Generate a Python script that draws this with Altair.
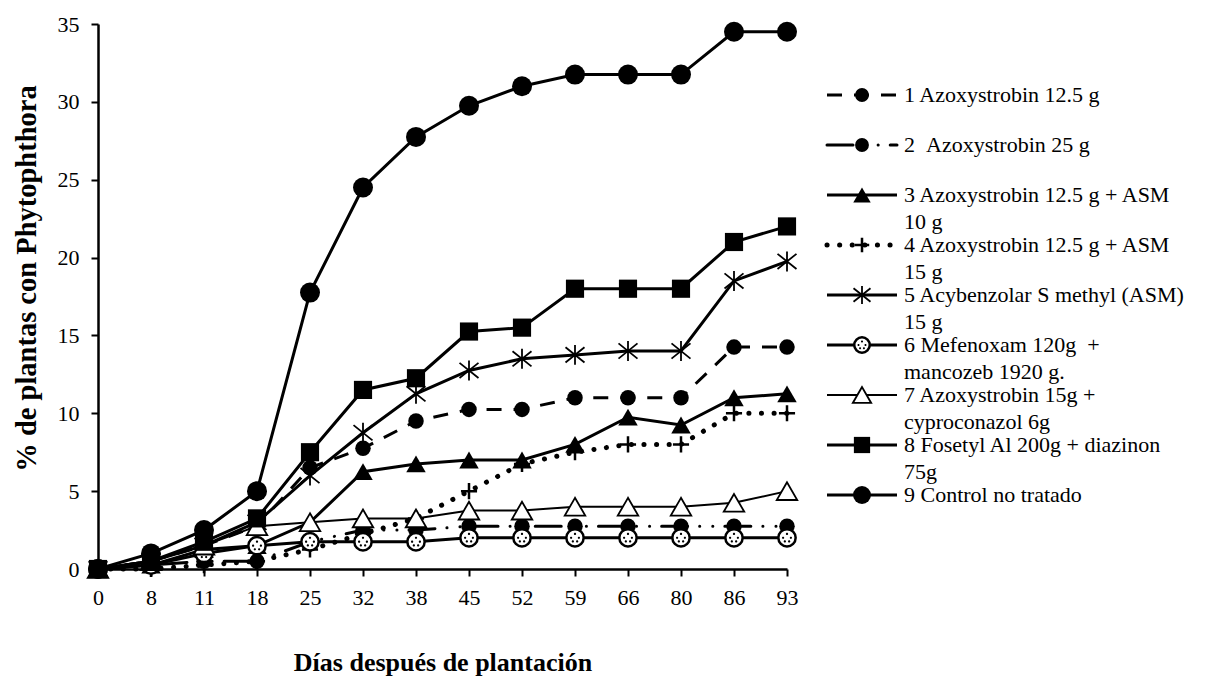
import altair as alt
import pandas as pd

# ---------------- data ----------------
days = ["0", "8", "11", "18", "25", "32", "38", "45", "52", "59", "66", "80", "86", "93"]

s1 = [0, 0.5, 1.5, 2.75, 6.5, 7.75, 9.5, 10.25, 10.25, 11.0, 11.0, 11.0, 14.25, 14.25]
s2 = [0, 0.25, 0.5, 0.5, 1.75, 2.5, 2.5, 2.75, 2.75, 2.75, 2.75, 2.75, 2.75, 2.75]
s3 = [0, 0.25, 1.25, 1.5, 3.0, 6.25, 6.75, 7.0, 7.0, 8.0, 9.75, 9.25, 11.0, 11.25]
s4 = [0, 0, 0.25, 0.5, 1.25, 2.25, 3.25, 5.0, 6.75, 7.5, 8.0, 8.0, 10.0, 10.0]
s5 = [0, 0.5, 1.5, 3.0, 6.0, 8.75, 11.25, 12.75, 13.5, 13.75, 14.0, 14.0, 18.5, 19.75]
s6 = [0, 0.25, 1.0, 1.5, 1.75, 1.75, 1.75, 2.0, 2.0, 2.0, 2.0, 2.0, 2.0, 2.0]
s7 = [0, 0.5, 1.5, 2.75, 3.0, 3.25, 3.25, 3.75, 3.75, 4.0, 4.0, 4.0, 4.25, 5.0]
s8 = [0, 0.5, 1.75, 3.25, 7.5, 11.5, 12.25, 15.25, 15.5, 18.0, 18.0, 18.0, 21.0, 22.0]
s9 = [0, 1.0, 2.5, 5.0, 17.75, 24.5, 27.75, 29.75, 31.0, 31.75, 31.75, 31.75, 34.5, 34.5]

label_line1 = [
    "1 Azoxystrobin 12.5 g",
    "2 \u00a0Azoxystrobin 25 g",
    "3 Azoxystrobin 12.5 g + ASM",
    "4 Azoxystrobin 12.5 g + ASM",
    "5 Acybenzolar S methyl (ASM)",
    "6 Mefenoxam 120g \u00a0+",
    "7 Azoxystrobin 15g +",
    "8 Fosetyl Al 200g + diazinon",
    "9 Control no tratado",
]
label_line2 = ["", "", "10 g", "15 g", "15 g", "mancozeb 1920 g.", "cyproconazol 6g", "75g", ""]

y_ticks = [0, 5, 10, 15, 20, 25, 30, 35]

series_values = [s1, s2, s3, s4, s5, s6, s7, s8, s9]

rows = []
for i, vals in enumerate(series_values):
    for d, v in zip(days, vals):
        rows.append({"serie": i + 1, "dia": d, "pct": v})
df = pd.DataFrame(rows)

# ---------------- styles ----------------
FONT = "Liberation Serif"
PLUS = "M -1 0 L 1 0 M 0 -1 L 0 1"
ASTER = "M -1 -0.8 L 1 0.8 M -1 0.8 L 1 -0.8 M 0 -1.05 L 0 1.05"


def dot(cx, cy, r=0.13):
    return (f"M {cx - r} {cy} A {r} {r} 0 1 0 {cx + r} {cy} "
            f"A {r} {r} 0 1 0 {cx - r} {cy} Z ")


DOTS = dot(0, -0.45) + dot(-0.45, 0.0) + dot(0.45, 0.0) + dot(-0.25, 0.42) + dot(0.25, 0.42)

styles = {
    1: dict(line=dict(strokeDash=[15, 12], strokeWidth=3), marks=[dict(shape="circle", filled=True, size=240)]),
    2: dict(line=dict(strokeDash=[26, 12, 0.1, 13, 0.1, 12], strokeWidth=3, strokeCap="round"),
            marks=[dict(shape="circle", filled=True, size=240)]),
    3: dict(line=dict(strokeWidth=3), marks=[dict(shape="triangle-up", filled=True, size=380)]),
    4: dict(line=dict(strokeDash=[0.1, 12.5], strokeWidth=5, strokeCap="round"),
            marks=[dict(shape=PLUS, filled=False, size=260, strokeWidth=2.5)]),
    5: dict(line=dict(strokeWidth=3), marks=[dict(shape=ASTER, filled=False, size=360, strokeWidth=1.8)]),
    6: dict(line=dict(strokeWidth=3),
            marks=[dict(shape="circle", filled=True, fill="white", stroke="black", strokeWidth=2.5, size=300),
                   dict(shape=DOTS, filled=True, size=300, strokeWidth=0)]),
    7: dict(line=dict(strokeWidth=2),
            marks=[dict(shape="triangle-up", filled=True, fill="white", stroke="black", strokeWidth=1.8, size=420)]),
    8: dict(line=dict(strokeWidth=3), marks=[dict(shape="square", filled=True, size=330)]),
    9: dict(line=dict(strokeWidth=3), marks=[dict(shape="circle", filled=True, size=400)]),
}

# ---------------- main plot ----------------
W, H = 689, 545

x_enc = alt.X(
    "dia:O", sort=days,
    scale=alt.Scale(type="point", padding=0),
    axis=alt.Axis(
        title="Días después de plantación", titleFont=FONT, titleFontSize=26, titleFontWeight="bold",
        titleColor="black", titleY=93, titleBaseline="middle",
        labelFont=FONT, labelFontSize=22, labelColor="black", labelAngle=0, labelPadding=11,
        tickSize=7, tickColor="black", tickWidth=2, domainColor="black", domainWidth=2.5,
        grid=False, labelOverlap=False,
    ),
)
y_enc = alt.Y(
    "pct:Q",
    scale=alt.Scale(domain=[0, 35], nice=False, zero=True),
    axis=alt.Axis(
        title="% de plantas con Phytophthora", titleFont=FONT, titleFontSize=28.5, titleFontWeight="bold",
        titleColor="black", titleX=-72, titleY=254, titleAlign="center", titleBaseline="middle",
        titleAngle=270,
        values=y_ticks, labelFont=FONT, labelFontSize=22, labelColor="black", labelPadding=12,
        tickSize=7, tickColor="black", tickWidth=2, domainColor="black", domainWidth=2.5, grid=False,
    ),
)

base = alt.Chart(df)
main_layers = []
for i in range(1, 10):
    st = styles[i]
    sub = base.transform_filter(alt.datum.serie == i)
    main_layers.append(sub.mark_line(color="black", **st["line"]).encode(x=x_enc, y=y_enc))
    for m in st["marks"]:
        main_layers.append(sub.mark_point(color="black", opacity=1, **m).encode(x=x_enc, y=y_enc))
main = alt.layer(*main_layers)

# ---------------- legend (own scales) ----------------
leg = pd.DataFrame({
    "r": list(range(1, 10)),
    "t1": label_line1,
    "t2": label_line2,
})
leg["r2"] = leg["r"] + 0.54
leg["x0"] = 729
leg["x1"] = 799
leg["xm"] = 764
leg["xt"] = 806

lx = alt.Scale(domain=[0, W], nice=False, zero=False)
ly = alt.Scale(domain=[-0.42, 10.48], nice=False, zero=False, reverse=True)

lbase = alt.Chart(leg)
leg_layers = []
for i in range(1, 10):
    st = styles[i]
    sub = lbase.transform_filter(alt.datum.r == i)
    leg_layers.append(sub.mark_rule(color="black", **st["line"]).encode(
        x=alt.X("x0:Q", scale=lx, axis=None), x2="x1:Q", y=alt.Y("r:Q", scale=ly, axis=None)))
    for m in st["marks"]:
        mm = dict(m)
        mm["size"] = m["size"] * 0.8
        leg_layers.append(sub.mark_point(color="black", opacity=1, **mm).encode(
            x=alt.X("xm:Q", scale=lx, axis=None), y=alt.Y("r:Q", scale=ly, axis=None)))

leg_layers.append(lbase.mark_text(align="left", baseline="middle", font=FONT, fontSize=22, color="black").encode(
    x=alt.X("xt:Q", scale=lx, axis=None), y=alt.Y("r:Q", scale=ly, axis=None), text="t1:N"))
leg_layers.append(lbase.mark_text(align="left", baseline="middle", font=FONT, fontSize=22, color="black").encode(
    x=alt.X("xt:Q", scale=lx, axis=None), y=alt.Y("r2:Q", scale=ly, axis=None), text="t2:N"))
legend = alt.layer(*leg_layers)

chart = (
    alt.layer(main, legend)
    .resolve_scale(x="independent", y="independent")
    .properties(
        width=W, height=H,
        padding={"left": 90, "top": 16, "right": 400, "bottom": 110},
        autosize=alt.AutoSizeParams(type="none"),
        background="white",
    )
    .configure_view(stroke=None)
)

chart.save("out.html", embed_options={"renderer": "svg", "actions": False})
